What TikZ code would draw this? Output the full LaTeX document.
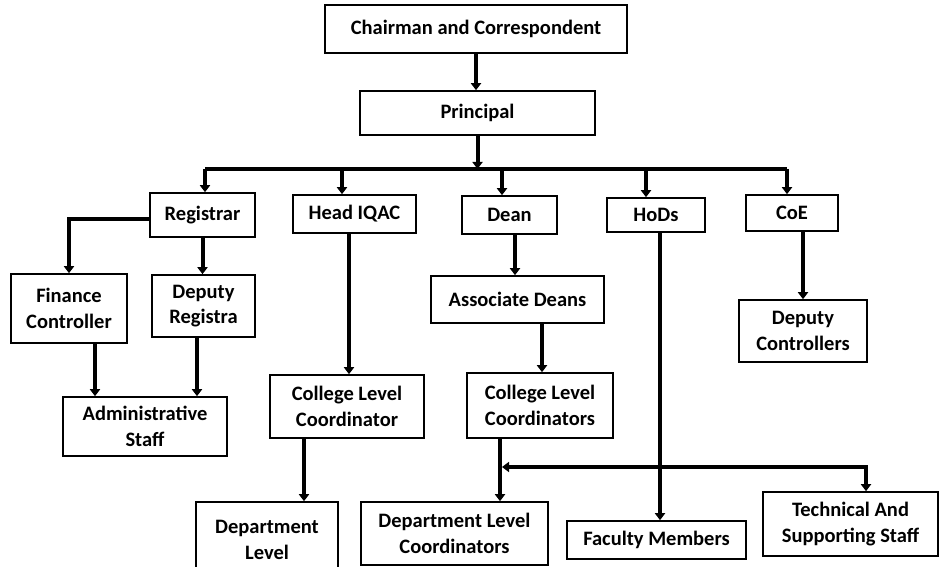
\documentclass[tikz,border=0pt]{standalone}
\usepackage{fontspec}
\setmainfont{Carlito}
\usetikzlibrary{arrows.meta}
\tikzset{post/.style={draw, line width=1.6pt, align=center, inner sep=2pt,
        font=\bfseries\fontsize{20.5}{25.5}\selectfont},
    stub/.tip={Triangle[width=10pt,length=7pt]},
    link/.style={line width=4pt, -stub},
    }

\begin{document}
\begin{tikzpicture}[x=1pt,y=-1pt]
\clip (0,0) rectangle (940,567);
% top of the chart
\node[post, minimum width=302pt, minimum height=48pt] (chair) at (476,29) {Chairman and Correspondent};
\node[post, minimum width=235pt, minimum height=44pt] (princ) at (477.5,113) {Principal};
% first level
\node[post, minimum width=105pt, minimum height=44pt] (reg) at (202.5,215) {Registrar};
\node[post, minimum width=123pt, minimum height=38pt] (iqac) at (354.5,214) {Head IQAC};
\node[post, minimum width=95pt, minimum height=38pt] (dean) at (509.5,215) {Dean};
\node[post, minimum width=98pt, minimum height=34pt] (hods) at (656,215) {HoDs};
\node[post, minimum width=92pt, minimum height=36pt] (coe) at (792,213) {CoE};
% below them
\node[post, minimum width=116pt, minimum height=69pt] (fin) at (69,308.5) {Finance\\Controller};
\node[post, minimum width=103pt, minimum height=62pt] (dreg) at (203.5,306) {Deputy\\Registra};
\node[post, minimum width=164pt, minimum height=59pt] (admin) at (145,426.5) {Administrative\\Staff};
\node[post, minimum width=154pt, minimum height=63pt] (clc) at (347,406.5) {College Level\\Coordinator};
\node[post, minimum width=142pt, minimum height=76pt] (dl) at (267,540) {Department\\Level};
\node[post, minimum width=173pt, minimum height=47pt] (assoc) at (517.5,299.5) {Associate Deans};
\node[post, minimum width=146pt, minimum height=65pt] (clcs) at (540,405.5) {College Level\\Coordinators};
\node[post, minimum width=187pt, minimum height=63pt] (dlc) at (454.5,533.5) {Department Level\\Coordinators};
\node[post, minimum width=179pt, minimum height=38pt] (fac) at (656.5,540) {Faculty Members};
\node[post, minimum width=175pt, minimum height=64pt] (tech) at (850.5,524) {Technical And\\Supporting Staff};
\node[post, minimum width=128pt, minimum height=62pt] (dc) at (803,331) {Deputy\\Controllers};

\draw[link] (chair.south) -- (chair.south |- princ.north);
\coordinate (bus) at (477,169);
\draw[link] (princ.south) -- (princ.south |- bus);
\draw[line width=4pt] (205,169) -- (787,169);
\foreach \n/\x in {reg/205, iqac/342, dean/502, hods/646, coe/787} {
    \coordinate (t) at (\x,169);
    \draw[link] (t) -- (t |- \n.north);
}
\draw[link] ([yshift=-4pt]reg.west) -| (fin.north);
\draw[link] (reg.south) -- (reg.south |- dreg.north);
\draw[link] ([xshift=26pt]fin.south) -- ([xshift=-50pt]admin.north);
\draw[link] ([xshift=-6.5pt]dreg.south) -- ([xshift=52pt]admin.north);
\draw[link] ([xshift=-5.5pt]iqac.south) -- ([xshift=2pt]clc.north);
\draw[link] ([xshift=-43pt]clc.south) -- ([xshift=37pt]dl.north);
\draw[link] ([xshift=5.5pt]dean.south) -- ([xshift=-2.5pt]assoc.north);
\draw[link] ([xshift=24.5pt]assoc.south) -- ([xshift=2pt]clcs.north);
\draw[link] ([xshift=-40pt]clcs.south) coordinate (cs) -- ([xshift=45.5pt]dlc.north);
\draw[link] ([xshift=4pt]hods.south) -- ([xshift=3.5pt]fac.north);
\draw[link] ([xshift=11pt]coe.south) -- (dc.north);
% staff line
\coordinate (j) at (866,467);
\draw[link, stub-stub, shorten <=2pt] (j -| cs) -- (j) -- (j |- tech.north);
\end{tikzpicture}
\end{document}
